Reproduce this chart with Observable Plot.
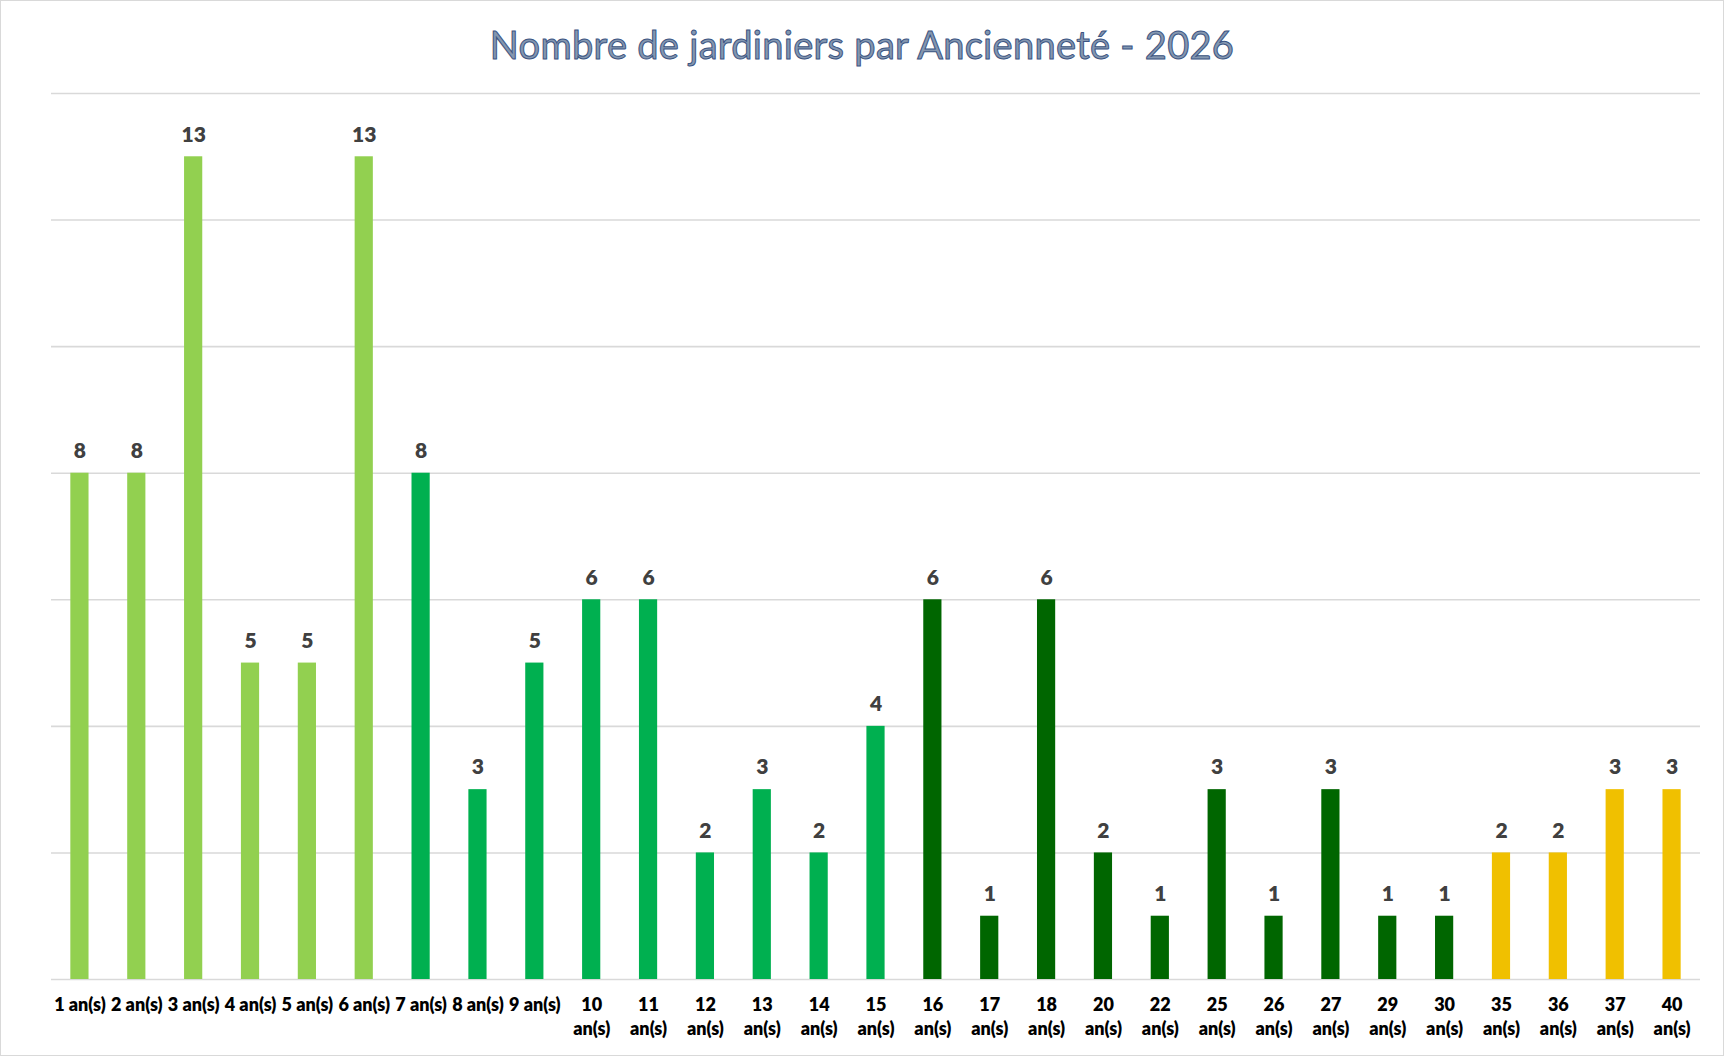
<!DOCTYPE html>
<html>
<head>
<meta charset="utf-8">
<script src="https://cdn.jsdelivr.net/npm/d3@7"></script>
<script src="https://cdn.jsdelivr.net/npm/@observablehq/plot@0.6"></script>
<style>
  html, body { margin: 0; padding: 0; background: #fff; }
  #frame { position: relative; width: 1722px; height: 1054px; border: 1px solid #d9d9d9; background: #fff; overflow: hidden; }
  #title { height: 84px; line-height: 86px; text-align: center; font-family: Lato, "Open Sans", sans-serif; font-size: 38px; color: #8497b0; -webkit-text-stroke: 1px #3b5482; letter-spacing: 0.3px; }
  #chart svg { display: block; }
</style>
</head>
<body>
<div id="frame">
  <div id="title">Nombre de jardiniers par Ancienneté - 2026</div>
  <div id="chart"></div>
</div>
<script>
const years = [1,2,3,4,5,6,7,8,9,10,11,12,13,14,15,16,17,18,20,22,25,26,27,29,30,35,36,37,40];
const counts = [8,8,13,5,5,13,8,3,5,6,6,2,3,2,4,6,1,6,2,1,3,1,3,1,1,2,2,3,3];
const groups = ["A","A","A","A","A","A","B","B","B","B","B","B","B","B","B","C","C","C","C","C","C","C","C","C","C","D","D","D","D"];
const groupNames = ["A","B","C","D"];
const groupColors = ["#92d050","#00b050","#006600","#f0c000"];
const yTicks = [0,2,4,6,8,10,12,14];

const labelOf = y => y < 10 ? `${y} an(s)` : `${y}\nan(s)`;
const data = years.map((y, i) => ({cat: labelOf(y), value: counts[i], group: groups[i]}));

const chart = Plot.plot({
  width: 1722,
  height: 969,
  marginTop: 8,
  marginBottom: 75,
  marginLeft: 50,
  marginRight: 23,
  style: {fontFamily: "Lato, 'Open Sans', sans-serif", background: "#fff"},
  x: {domain: data.map(d => d.cat), paddingInner: 0.68, paddingOuter: 0.34, round: false, label: null},
  y: {domain: [0, 14], label: null},
  color: {domain: groupNames, range: groupColors},
  marks: [
    Plot.ruleY(yTicks, {stroke: "#d9d9d9", strokeWidth: 1.6}),
    Plot.barY(data, {x: "cat", y: "value", fill: "group"}),
    Plot.text(data, {x: "cat", y: "value", text: d => String(d.value), dy: -22, fontSize: 21, fontWeight: 800, fill: "#404040"}),
    Plot.axisX({tickSize: 0, tickPadding: 15, fontSize: 18, fontWeight: 800, fill: "#000", lineHeight: 1.3, label: null}),
    Plot.axisY({ticks: [], label: null, tickSize: 0})
  ]
});
document.getElementById("chart").appendChild(chart);
</script>
</body>
</html>
